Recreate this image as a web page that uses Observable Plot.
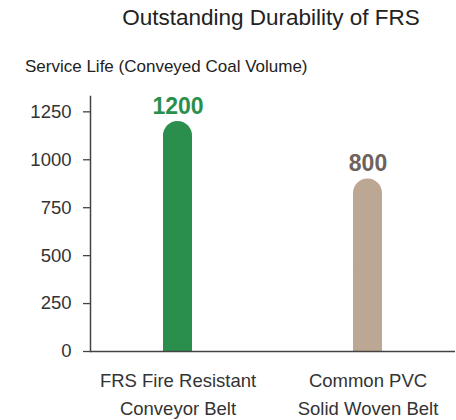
<!DOCTYPE html>
<html>
<head>
<meta charset="utf-8">
<script src="https://cdn.jsdelivr.net/npm/d3@7"></script>
<script src="https://cdn.jsdelivr.net/npm/@observablehq/plot@0.6"></script>
<style>
  html, body { margin: 0; padding: 0; background: #fff; }
  #wrap { position: relative; width: 456px; height: 420px; font-family: "Liberation Sans", Arial, Helvetica, sans-serif; }
  #title { position: absolute; left: 0; width: 542px; top: 7px; text-align: center; font-size: 22.5px; color: #222; line-height: 1; }
  #subtitle { position: absolute; left: 25px; top: 58px; font-size: 17px; color: #222; line-height: 1; }
  #chart { position: absolute; left: 0; top: 0; }
</style>
</head>
<body>
<div id="wrap">
  <div id="chart"></div>
  <div id="title">Outstanding Durability of FRS</div>
  <div id="subtitle">Service Life (Conveyed Coal Volume)</div>
</div>
<script>
const categories = ["FRS Fire Resistant\nConveyor Belt", "Common PVC\nSolid Woven Belt"];
const barHeights = [1200, 900];
const valueLabels = ["1200", "800"];
const barColors = ["#2a8f4d", "#bca794"];
const labelColors = ["#2a8f4d", "#6d625c"];
const yTicks = [0, 250, 500, 750, 1000, 1250];

const data = categories.map((c, i) => ({
  category: c, value: barHeights[i], label: valueLabels[i], color: barColors[i], labelColor: labelColors[i]
}));

const chart = Plot.plot({
  width: 456,
  height: 420,
  marginTop: 96,
  marginBottom: 69,
  marginLeft: 90,
  marginRight: 1,
  style: { fontFamily: "Liberation Sans, Arial, Helvetica, sans-serif", background: "transparent", color: "#333" },
  x: { domain: categories, paddingInner: 0.848, paddingOuter: 0.3845, label: null },
  y: { domain: [0, 1330], label: null },
  marks: [
    Plot.axisY({ ticks: yTicks, tickFormat: d => String(d), tickSize: 7, tickPadding: 12, fontSize: 18.5, label: null, stroke: "#444", strokeWidth: 1.3, fill: "#333" }),
    Plot.axisX({ tickSize: 0, tickPadding: 16, fontSize: 18.5, lineHeight: 1.5, label: null, fill: "#333" }),
    Plot.barY(data, { x: "category", y: "value", fill: "color", rx: 14.5 }),
    Plot.barY(data, { x: "category", y: d => d.value / 2, fill: "color" }),
    Plot.text(data, { x: "category", y: "value", text: "label", dy: -15, fontSize: 23, fontWeight: "bold", fill: "labelColor" }),
    Plot.ruleY([0], { stroke: "#444", strokeWidth: 1.5 }),
    Plot.frame({ anchor: "left", stroke: "#444", strokeWidth: 1.5 })
  ]
});
document.getElementById("chart").appendChild(chart);
</script>
</body>
</html>
